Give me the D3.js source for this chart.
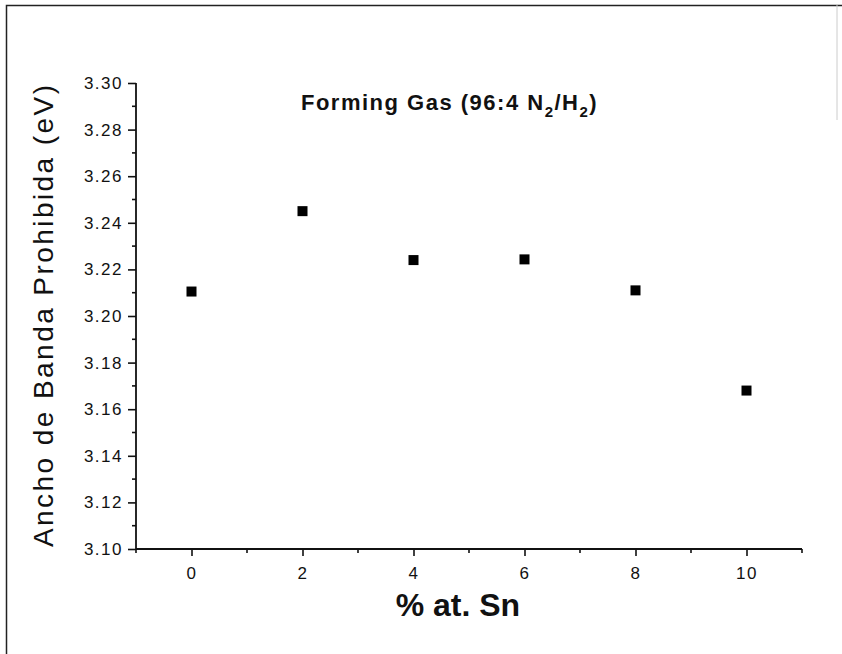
<!DOCTYPE html>
<html>
<head>
<meta charset="utf-8">
<script src="https://cdn.jsdelivr.net/npm/d3@7"></script>
<style>
  body { margin: 0; background: #fff; }
  text { font-family: "Liberation Sans", Arial, sans-serif; fill: #111; }
</style>
</head>
<body>
<div id="chart"></div>
<script>
// data
var tinPercent = [0, 2, 4, 6, 8, 10];
var bandGap = [3.2105, 3.245, 3.224, 3.2243, 3.211, 3.168];
var xMajorTicks = [0, 2, 4, 6, 8, 10];
var xMinorTicks = [-1, 1, 3, 5, 7, 9, 11];
var yMajorTicks = [3.10, 3.12, 3.14, 3.16, 3.18, 3.20, 3.22, 3.24, 3.26, 3.28, 3.30];
var yMinorTicks = [3.11, 3.13, 3.15, 3.17, 3.19, 3.21, 3.23, 3.25, 3.27, 3.29];

var W = 842, H = 654;
var margin = { top: 83, right: 40, bottom: 105, left: 136 },
    width = W - margin.left - margin.right,
    height = H - margin.top - margin.bottom;

var x = d3.scaleLinear().domain([-1, 11]).range([0, width]);
var y = d3.scaleLinear().domain([3.10, 3.30]).range([height, 0]);

var root = d3.select("#chart").append("svg")
    .attr("width", W)
    .attr("height", H);

// scanned frame around the figure
root.append("path")
    .attr("d", "M6.5," + H + "V5.5H" + W)
    .attr("fill", "none")
    .attr("stroke", "#222")
    .attr("stroke-width", 1.5);
root.append("line")
    .attr("x1", 837).attr("x2", 837)
    .attr("y1", 5).attr("y2", 120)
    .attr("stroke", "#ccc");

var svg = root.append("g")
    .attr("transform", "translate(" + margin.left + "," + margin.top + ")");

// X axis
var xAxis = d3.axisBottom(x).tickValues(xMajorTicks).tickSize(7).tickPadding(11).tickFormat(d3.format("d"));
var gx = svg.append("g")
    .attr("transform", "translate(0," + height + ")")
    .call(xAxis);
gx.append("g").selectAll("line")
    .data(xMinorTicks)
    .enter().append("line")
    .attr("x1", function(d) { return x(d); })
    .attr("x2", function(d) { return x(d); })
    .attr("y1", 0).attr("y2", 4)
    .attr("stroke", "#111").attr("stroke-width", 1.6);

// Y axis
var yAxis = d3.axisLeft(y).tickValues(yMajorTicks).tickSize(8).tickPadding(5).tickFormat(d3.format(".2f"));
var gy = svg.append("g").call(yAxis);
gy.append("g").selectAll("line")
    .data(yMinorTicks)
    .enter().append("line")
    .attr("y1", function(d) { return y(d); })
    .attr("y2", function(d) { return y(d); })
    .attr("x1", 0).attr("x2", -4)
    .attr("stroke", "#111").attr("stroke-width", 1.6);

[gx, gy].forEach(function(g) {
    g.select(".domain").attr("stroke", "#111").attr("stroke-width", 1.8)
        .attr("d", g === gx ? "M0,0H" + width : "M0," + height + "V0");
    g.selectAll(".tick line").attr("stroke", "#111").attr("stroke-width", 1.6);
    g.selectAll(".tick text")
        .style("font-size", "17px")
        .style("letter-spacing", "1.5px")
        .style("fill", "#111");
});

// points
svg.selectAll("rect.pt")
    .data(tinPercent)
    .enter().append("rect")
    .attr("class", "pt")
    .attr("width", 10)
    .attr("height", 10)
    .attr("x", function(d) { return x(d) - 5; })
    .attr("y", function(d, i) { return y(bandGap[i]) - 5; })
    .attr("fill", "#000");

// title
var title = svg.append("text")
    .attr("x", x(4.65))
    .attr("y", 27)
    .attr("text-anchor", "middle")
    .style("font-size", "22px")
    .style("letter-spacing", "1.5px")
    .style("font-weight", "bold");
title.append("tspan").text("Forming Gas (96:4 N");
title.append("tspan").attr("dy", 7).style("font-size", "15px").text("2");
title.append("tspan").attr("dy", -7).text("/H");
title.append("tspan").attr("dy", 7).style("font-size", "15px").text("2");
title.append("tspan").attr("dy", -7).text(")");

// X axis label
svg.append("text")
    .attr("x", x(4.8))
    .attr("y", height + 67)
    .attr("text-anchor", "middle")
    .style("font-size", "32px")
    .style("font-weight", "bold")
    .text("% at. Sn");

// Y axis label
svg.append("text")
    .attr("transform", "rotate(-90)")
    .attr("x", -height / 2)
    .attr("y", -margin.left + 53)
    .attr("text-anchor", "middle")
    .attr("textLength", 462)
    .attr("lengthAdjust", "spacing")
    .style("font-size", "28px")
    .text("Ancho de Banda Prohibida (eV)");
</script>
</body>
</html>
